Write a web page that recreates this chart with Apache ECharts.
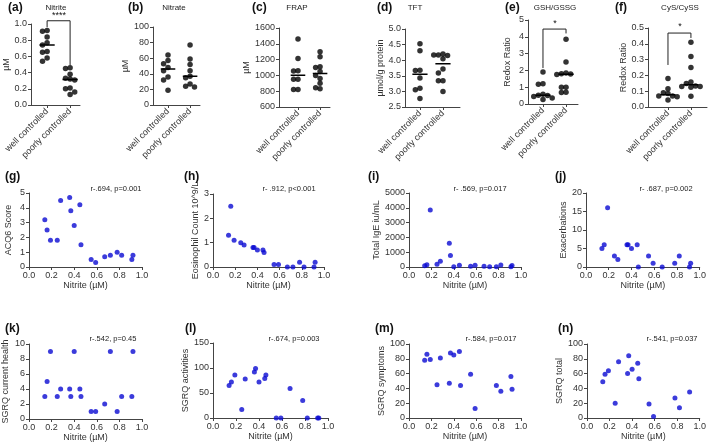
<!DOCTYPE html>
<html><head><meta charset="utf-8">
<script src="https://cdn.jsdelivr.net/npm/echarts@6/dist/echarts.min.js"></script>
<style>html,body{margin:0;padding:0;background:#fff}#c{width:709px;height:444px}</style>
</head><body><div id="c"></div>
<script>
// ---------- DATA ----------
const groups = ['well controlled', 'poorly controlled'];
const nitriteWell = [0.92, 0.91, 0.84, 0.77, 0.74, 0.66, 0.65, 0.58, 0.54];
const nitritePoor = [0.46, 0.45, 0.38, 0.33, 0.32, 0.31, 0.21, 0.20, 0.16, 0.13];
const nitrateWell = [64, 57, 53, 48, 44, 36, 32, 19];
const nitratePoor = [77, 59, 52, 44, 37, 35, 27, 24, 23];
const frapWell = [1460, 1215, 1060, 1055, 950, 950, 820, 820];
const frapPoor = [1300, 1235, 1110, 1100, 1050, 1000, 960, 900, 845, 830];
const tftWell = [4.53, 4.30, 3.68, 3.67, 3.43, 3.10, 3.05, 2.77];
const tftPoor = [4.20, 4.17, 4.15, 4.17, 4.05, 3.72, 3.59, 3.34, 3.34, 3.00];
const gshWell = [1.9, 1.2, 1.17, 0.58, 0.52, 0.5, 0.45, 0.35, 0.27];
const gshPoor = [3.85, 2.5, 1.85, 1.8, 1.78, 1.75, 1.0, 1.0, 0.7, 0.68];
const cysWell = [0.18, 0.115, 0.09, 0.085, 0.07, 0.07, 0.065, 0.045];
const cysPoor = [0.41, 0.32, 0.25, 0.158, 0.148, 0.133, 0.13, 0.13, 0.125, 0.068];

const nitriteX = [0.14, 0.16, 0.19, 0.25, 0.28, 0.36, 0.37, 0.40, 0.45, 0.46, 0.55, 0.59, 0.67, 0.72, 0.78, 0.82, 0.91, 0.92];
const acq6 = [3.2, 2.5, 1.8, 1.8, 4.5, 4.7, 3.8, 2.8, 4.2, 1.5, 0.5, 0.3, 0.7, 0.8, 1.0, 0.8, 0.5, 0.8];
const eosinophil = [1.3, 2.5, 1.1, 1.0, 0.9, 0.8, 0.8, 0.7, 0.7, 0.6, 0.1, 0.1, 0, 0, 0.2, 0, 0, 0.2];
const totalIgE = [90, 160, 3850, 180, 390, 1610, 780, 10, 120, null, 50, 110, 50, 20, 20, 140, 20, 100];
const exacerbations = [5, 6, 16, 3, 2, 6, 6, 5, 6, 0, 3, 1, 0, null, 1, 3, 0, 1];
const sgrqHealth = [3, 5, 9, 3, 4, 4, 3, 9, 4, 3, 1, 1, 2, 9, 1, 3, 3, 9];
const sgrqActivities = [65, 72, 86, 17, 78, 92, 99, 72, 79, 86, 0, 0, 59, null, 35, 0, 0, 0];
const sgrqSymptoms = [78, 86, 79, 45, 81, 47, 88, 85, 90, 44, 59, 13, null, null, 44, 36, 56, 39];
const sgrqTotal = [49, 59, 64, 20, 76, 60, 84, 66, 74, 53, 19, 2, null, null, 27, 14, 35, null];

const topTitles = ['Nitrite', 'Nitrate', 'FRAP', 'TFT', 'GSH/GSSG', 'CyS/CySS'];
const topYNames = ['µM', 'µM', 'µM', 'µmol/g protein', 'Redox Ratio', 'Redox Ratio'];
const corrYNames = ['ACQ6 Score', 'Eosinophil Count 10^9/L', 'Total IgE iu/mL', 'Exacerbations',
  'SGRQ current health', 'SGRQ activities', 'SGRQ symptoms', 'SGRQ total'];
const corrTexts = ['r-.694, p=0.001', 'r- .912, p<0.001', 'r- .569, p=0.017', 'r- .687, p=0.002',
  'r-.542, p=0.45', 'r-.674, p=0.003', 'r-.584, p=0.017', 'r-.541, p=0.037'];
const xName = 'Nitrite (µM)';

// ---------- LAYOUT ----------
const FONT = 'Liberation Sans, Arial, sans-serif';
const topData = [
  [nitriteWell, nitritePoor, 0, 1, 0.2, 1],
  [nitrateWell, nitratePoor, 0, 100, 20, 0],
  [frapWell, frapPoor, 600, 1600, 200, 0],
  [tftWell, tftPoor, 2.5, 5, 0.5, 1],
  [gshWell, gshPoor, 0, 5, 1, 0],
  [cysWell, cysPoor, 0, 0.5, 0.1, 1]
];
const topLayout = [
  {g: [31, 24, 49, 81], xr: [-0.7, 1.43], ng: 16, lx: 8, tx: 56},
  {g: [153, 27, 47, 78], xr: [-0.68, 1.45], ng: 18, lx: 128, tx: 174},
  {g: [279, 28, 51, 79], xr: [-0.86, 1.45], ng: 17, lx: 252, tx: 297},
  {g: [405, 29, 55, 78], xr: [-0.65, 1.74], ng: 18, lx: 377, tx: 415},
  {g: [528, 20, 50, 84], xr: [-0.65, 1.52], ng: 16, lx: 505, tx: 555},
  {g: [648, 28, 59, 79], xr: [-0.87, 1.7], ng: 20, lx: 615, tx: 680}
];
const brackets = {0: {pts: [0.96, 1.04, 0.49], text: '****', x: 59, y: 16},
                  4: {pts: [2.14, 4.46, 4.2], text: '*', x: 555, y: 24},
                  5: {pts: [0.266, 0.468, 0.437], text: '*', x: 680, y: 27}};
const corrData = [
  [acq6, 0, 5, 1], [eosinophil, 0, 3, 1], [totalIgE, 0, 5000, 1000], [exacerbations, 0, 20, 5],
  [sgrqHealth, 0, 10, 2], [sgrqActivities, 0, 150, 50], [sgrqSymptoms, 0, 100, 20], [sgrqTotal, 0, 100, 20]
];
const corrLayout = [
  {g: [29, 193, 113, 74], ng: 16, letter: '(g)', lx: 5, ly: 171, ax: 116, ay: 189},
  {g: [213, 194, 111, 73], ng: 13, letter: '(h)', lx: 184, ly: 171, ax: 289, ay: 189},
  {g: [409, 193, 112, 74], ng: 26, letter: '(i)', lx: 368, ly: 171, ax: 480, ay: 189},
  {g: [586, 193, 114, 74], ng: 18, letter: '(j)', lx: 555, ly: 171, ax: 666, ay: 189},
  {g: [29, 344, 113, 75], ng: 19, letter: '(k)', lx: 5, ly: 323, ax: 113, ay: 339},
  {g: [213, 343, 115, 75], ng: 20, letter: '(l)', lx: 185, ly: 323, ax: 294, ay: 339},
  {g: [409, 344, 112, 74], ng: 22, letter: '(m)', lx: 375, ly: 323, ax: 491, ay: 339},
  {g: [587, 344, 113, 74], ng: 20, letter: '(n)', lx: 558, ly: 323, ax: 672, ay: 339}
];
const letters = ['(a)', '(b)', '(c)', '(d)', '(e)', '(f)'];

// ---------- BUILD ----------
function median(a) {
  const s = a.slice().sort((p, q) => p - q), n = s.length;
  return n % 2 ? s[(n - 1) / 2] : (s[n / 2 - 1] + s[n / 2]) / 2;
}
function swarm(vals, g, range) {
  const placed = [], cand = [0, -0.2, 0.2, -0.4, 0.4];
  vals.forEach(v => {
    let off = 0;
    for (const c of cand) {
      if (!placed.some(p => Math.abs(p[0] - (g + c)) < 0.15 && Math.abs(p[1] - v) / range < 0.06)) { off = c; break; }
    }
    placed.push([g + off, v]);
  });
  return placed;
}
const axisLineStyle = {color: '#444', width: 1};
const labelStyle = {fontSize: 9, color: '#333', fontFamily: FONT};
const option = {animation: false, textStyle: {fontFamily: FONT}, grid: [], xAxis: [], yAxis: [], series: [], graphic: []};

topLayout.forEach((L, i) => {
  const [well, poor, ymin, ymax, yint, dec] = topData[i];
  option.grid.push({left: L.g[0], top: L.g[1], width: L.g[2], height: L.g[3]});
  option.xAxis.push({gridIndex: i, type: 'value', min: L.xr[0], max: L.xr[1],
    axisLine: {show: true, onZero: false, lineStyle: axisLineStyle},
    axisTick: {show: true, customValues: [0, 1], length: 3, lineStyle: axisLineStyle},
    axisLabel: Object.assign({customValues: [0, 1], formatter: v => groups[Math.round(v)], rotate: 45, margin: 5}, labelStyle),
    splitLine: {show: false}});
  option.yAxis.push({gridIndex: i, type: 'value', min: ymin, max: ymax, interval: yint,
    name: topYNames[i], nameLocation: 'middle', nameGap: L.ng, nameTextStyle: {fontSize: 9, color: '#333'},
    axisLine: {show: true, onZero: false, lineStyle: axisLineStyle},
    axisTick: {show: true, length: 3, lineStyle: axisLineStyle},
    axisLabel: Object.assign({margin: 4, formatter: v => v.toFixed(dec)}, labelStyle),
    splitLine: {show: false}});
  [well, poor].forEach((vals, g) => {
    option.series.push({type: 'scatter', xAxisIndex: i, yAxisIndex: i, symbolSize: 5.5,
      itemStyle: {color: '#000'}, data: swarm(vals, g, ymax - ymin)});
    const m = median(vals);
    option.series.push({type: 'line', xAxisIndex: i, yAxisIndex: i, symbol: 'none',
      lineStyle: {color: '#000', width: 1.5}, data: [[g - 0.33, m], [g + 0.33, m]]});
  });
  const b = brackets[i];
  if (b) {
    option.series.push({type: 'line', xAxisIndex: i, yAxisIndex: i, symbol: 'none', clip: false,
      lineStyle: {color: '#222', width: 1},
      data: [[0, b.pts[0]], [0, b.pts[1]], [1, b.pts[1]], [1, b.pts[2]]]});
    option.graphic.push({type: 'text', x: b.x, y: b.y, style: {text: b.text, font: '9px ' + FONT, fill: '#111', align: 'center', verticalAlign: 'middle'}});
  }
  option.graphic.push({type: 'text', x: L.lx, y: 2, style: {text: letters[i], font: 'bold 12px ' + FONT, fill: '#111'}});
  option.graphic.push({type: 'text', x: L.tx, y: 8, style: {text: topTitles[i], font: '8px ' + FONT, fill: '#222', align: 'center', verticalAlign: 'middle'}});
});

corrLayout.forEach((L, j) => {
  const i = j + 6;
  const [vals, ymin, ymax, yint] = corrData[j];
  option.grid.push({left: L.g[0], top: L.g[1], width: L.g[2], height: L.g[3]});
  option.xAxis.push({gridIndex: i, type: 'value', min: 0, max: 1, interval: 0.2,
    name: xName, nameLocation: 'middle', nameGap: 13, nameTextStyle: {fontSize: 9, color: '#333'},
    axisLine: {show: true, onZero: false, lineStyle: axisLineStyle},
    axisTick: {show: true, length: 3, lineStyle: axisLineStyle},
    axisLabel: Object.assign({margin: 4, formatter: v => v.toFixed(1)}, labelStyle),
    splitLine: {show: false}});
  option.yAxis.push({gridIndex: i, type: 'value', min: ymin, max: ymax, interval: yint,
    name: corrYNames[j], nameLocation: 'middle', nameGap: L.ng, nameTextStyle: {fontSize: 9, color: '#333'},
    axisLine: {show: true, onZero: false, lineStyle: axisLineStyle},
    axisTick: {show: true, length: 3, lineStyle: axisLineStyle},
    axisLabel: Object.assign({margin: 4, formatter: v => String(v)}, labelStyle),
    splitLine: {show: false}});
  option.series.push({type: 'scatter', xAxisIndex: i, yAxisIndex: i, symbolSize: 5,
    itemStyle: {color: '#0a0ad2'},
    data: nitriteX.map((x, k) => vals[k] == null ? null : [x, vals[k]]).filter(Boolean)});
  option.graphic.push({type: 'text', x: L.lx, y: L.ly, style: {text: L.letter, font: 'bold 12px ' + FONT, fill: '#111'}});
  option.graphic.push({type: 'text', x: L.ax, y: L.ay, style: {text: corrTexts[j], font: '7.5px ' + FONT, fill: '#222', align: 'center', verticalAlign: 'middle'}});
});

const chart = echarts.init(document.getElementById('c'), null, {renderer: 'canvas'});
chart.setOption(option);
</script>
</body></html>
